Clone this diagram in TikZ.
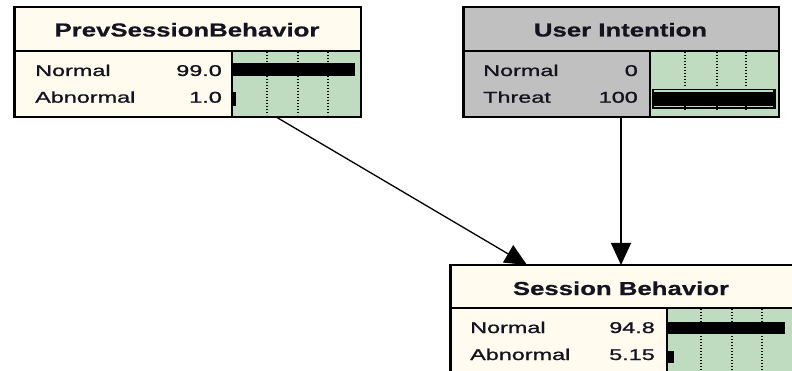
\documentclass[tikz,border=0pt]{standalone}
\usepackage{fontspec}
\setmainfont{Liberation Sans}
\newfontfamily\rowface[FakeBold=0.9]{Liberation Sans}
\newfontfamily\headface[FakeBold=0.6]{Liberation Sans Bold}
\usetikzlibrary{arrows.meta}

\definecolor{cream}{HTML}{FFFBEF}
\definecolor{barbg}{HTML}{C0DCC0}
\definecolor{greybox}{HTML}{C0C0C0}
\definecolor{inktext}{HTML}{141420}

% Node headers and state rows use a horizontally widened sans face
\newcommand{\nodetitle}[1]{\scalebox{1.37}[1]{\fontsize{18.8}{20}\headface #1}}
\newcommand{\staterow}[1]{\scalebox{1.50}[1]{\fontsize{15.6}{17}\rowface #1}}

\begin{document}
\begin{tikzpicture}[x=1pt,y=-1pt,
  frame/.style={draw=black, line width=1.5pt, inner sep=0pt, anchor=north west},
  sep/.style={draw=black, line width=1.5pt},
  gridline/.style={draw=black, line width=1.6pt, dash pattern=on 1.4pt off 1.6pt},
  lbl/.style={inner sep=0pt, anchor=base west, text=inktext},
  num/.style={inner sep=0pt, anchor=base east, text=inktext},
  ttl/.style={inner sep=0pt, anchor=base, text=inktext},
  link/.style={draw=black, line width=1.3pt, -{Triangle[width=20pt,length=22pt]}}]

\useasboundingbox (0,0) rectangle (792,371);
\clip (0,0) rectangle (792,371);

% ---------- PrevSessionBehavior ----------
\node[frame, fill=cream, minimum width=346pt, minimum height=109pt] (prev) at (14,7) {};
\fill[barbg] (232,51) rectangle (360,116);
\foreach \gx in {267,298,328} \draw[gridline] (\gx,52) -- (\gx,115);
\fill[black] (233,63) rectangle (355,76);
\fill[black] (233,92) rectangle (236,106);
\draw[sep] (14,51) -- (360,51);
\draw[sep] (232,51) -- (232,116);
\draw[frame] (prev.north west) rectangle (prev.south east);
\node[ttl] (prevT) at (187,36.5) {\nodetitle{PrevSessionBehavior}};
\node[lbl] (prevL1) at (35,76) {\staterow{Normal}};
\node[num] (prevN1) at (222,76) {\staterow{99.0}};
\node[lbl] (prevL2) at (35,102.7) {\staterow{Abnormal}};
\node[num] (prevN2) at (222,102.7) {\staterow{1.0}};

% ---------- User Intention ----------
\node[frame, fill=greybox, minimum width=315pt, minimum height=109pt] (ui) at (463,7) {};
\fill[barbg] (650,51) rectangle (778,116);
\foreach \gx in {685,717,746} \draw[gridline] (\gx,52) -- (\gx,87);
\fill[black] (651.5,89) rectangle (776,109.5);
\draw[barbg, line width=1.4pt] (654,91.2) -- (773,91.2);
\draw[barbg, line width=1.4pt] (654,106.7) -- (773,106.7);
\foreach \gx in {685,717,746} \draw[black, line width=1.6pt] (\gx,105.5) -- (\gx,110);
\draw[sep] (463,51) -- (778,51);
\draw[sep] (650,51) -- (650,116);
\draw[frame] (ui.north west) rectangle (ui.south east);
\node[ttl] (uiT) at (620.5,36.5) {\nodetitle{User Intention}};
\node[lbl] (uiL1) at (483,76) {\staterow{Normal}};
\node[num] (uiN1) at (638,76) {\staterow{0}};
\node[lbl] (uiL2) at (483,102.7) {\staterow{Threat}};
\node[num] (uiN2) at (638,102.7) {\staterow{100}};

% ---------- Session Behavior ----------
\node[frame, fill=cream, minimum width=344pt, minimum height=140pt] (sess) at (450,265) {};
\fill[barbg] (667,308) rectangle (794,405);
\foreach \gx in {701,732,762} \draw[gridline] (\gx,309) -- (\gx,372);
\fill[black] (667,322) rectangle (785,334);
\fill[black] (667,351) rectangle (674,363);
\draw[sep] (450,308) -- (794,308);
\draw[sep] (667,308) -- (667,405);
\draw[frame] (sess.north west) rectangle (sess.south east);
\node[ttl] (sessT) at (621,295) {\nodetitle{Session Behavior}};
\node[lbl] (sessL1) at (470,333) {\staterow{Normal}};
\node[num] (sessN1) at (655,333) {\staterow{94.8}};
\node[lbl] (sessL2) at (470,360) {\staterow{Abnormal}};
\node[num] (sessN2) at (655,360) {\staterow{5.15}};

% ---------- Links ----------
\draw[link] ([xshift=263pt]prev.south west) -- ([xshift=77pt]sess.north west);
\draw[link] ([xshift=158pt]ui.south west) -- ([xshift=171pt]sess.north west);

\end{tikzpicture}
\end{document}
